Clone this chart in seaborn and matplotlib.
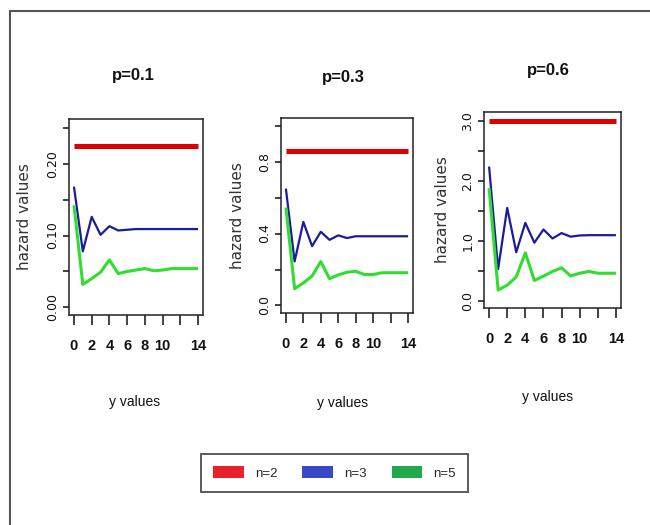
import numpy as np
import pandas as pd
import matplotlib
matplotlib.use("Agg")
import matplotlib.pyplot as plt
import seaborn as sns
from matplotlib.patches import Patch
from matplotlib.lines import Line2D

# ---------------- data ----------------
y_vals = list(range(15))
p_titles = ["p=0.1", "p=0.3", "p=0.6"]
series_names = ["n=2", "n=3", "n=5"]

p01_n2 = [0.225] * 15
p01_n3 = [0.168, 0.078, 0.126, 0.101, 0.113, 0.107, 0.108, 0.109, 0.109, 0.109, 0.109, 0.109, 0.109, 0.109, 0.109]
p01_n5 = [0.142, 0.032, 0.040, 0.049, 0.066, 0.047, 0.050, 0.052, 0.054, 0.051, 0.052, 0.054, 0.054, 0.054, 0.054]

p03_n2 = [0.86] * 15
p03_n3 = [0.65, 0.245, 0.465, 0.33, 0.41, 0.365, 0.39, 0.375, 0.385, 0.385, 0.385, 0.385, 0.385, 0.385, 0.385]
p03_n5 = [0.545, 0.093, 0.125, 0.164, 0.244, 0.149, 0.17, 0.185, 0.19, 0.172, 0.172, 0.182, 0.182, 0.182, 0.182]

p06_n2 = [3.0] * 15
p06_n3 = [2.24, 0.53, 1.55, 0.81, 1.30, 0.97, 1.19, 1.04, 1.13, 1.07, 1.09, 1.095, 1.095, 1.095, 1.095]
p06_n5 = [1.88, 0.18, 0.26, 0.40, 0.80, 0.34, 0.41, 0.49, 0.55, 0.415, 0.46, 0.49, 0.46, 0.46, 0.46]

x_ticks = [0, 2, 4, 6, 8, 10, 12, 14]
x_ticklabels = ["0", "2", "4", "6", "8", "10", "", "14"]

y_ticks_p01 = [0.00, 0.05, 0.10, 0.15, 0.20, 0.25]
y_labels_p01 = ["0.00", "", "0.10", "", "0.20", ""]
y_ticks_p03 = [0.0, 0.2, 0.4, 0.6, 0.8, 1.0]
y_labels_p03 = ["0.0", "", "0.4", "", "0.8", ""]
y_ticks_p06 = [0.0, 0.5, 1.0, 1.5, 2.0, 2.5, 3.0]
y_labels_p06 = ["0.0", "", "1.0", "", "2.0", "", "3.0"]

panels = [
    (p01_n2, p01_n3, p01_n5, y_ticks_p01, y_labels_p01, (-0.0105, 0.262)),
    (p03_n2, p03_n3, p03_n5, y_ticks_p03, y_labels_p03, (-0.042, 1.043)),
    (p06_n2, p06_n3, p06_n5, y_ticks_p06, y_labels_p06, (-0.12, 3.15)),
]

# ---------------- style ----------------
sns.set_style("white")
NARROW = ["Liberation Sans", "DejaVu Sans"]
WIDE = ["DejaVu Sans"]

line_colors = ["#dd0000", "#1c1c9a", "#30dd30"]
line_widths = [3.6, 1.6, 2.2]
legend_colors = ["#e8222b", "#3b48c4", "#21a84a"]

W, H = 650, 525
fig = plt.figure(figsize=(W / 100, H / 100), dpi=100)

# axes boxes in pixel coordinates: left, top, right, bottom
boxes = [(69, 119, 203, 315), (281, 118, 413, 313), (484, 112, 621, 308)]
title_pos = [(0.478, 1.224), (0.47, 1.21), (0.467, 1.214)]
xlabel_pos = [(0.49, -0.444), (0.47, -0.46), (0.467, -0.454)]
ylabel_x = [-0.33, -0.33, -0.30]

for i, (n2, n3, n5, yt, yl, ylim) in enumerate(panels):
    l, t, r, b = boxes[i]
    ax = fig.add_axes([l / W, 1 - b / H, (r - l) / W, (b - t) / H])
    df = pd.DataFrame({
        "y": y_vals * 3,
        "hazard": n2 + n3 + n5,
        "n": [series_names[0]] * 15 + [series_names[1]] * 15 + [series_names[2]] * 15,
    })
    for k, name in enumerate(series_names):
        sns.lineplot(data=df[df["n"] == name], x="y", y="hazard", ax=ax,
                     color=line_colors[k], linewidth=line_widths[k],
                     legend=False, solid_capstyle="butt")
    ax.set_xlim(-0.56, 14.56)
    ax.set_ylim(*ylim)
    ax.set_xticks(x_ticks)
    ax.set_xticklabels(x_ticklabels, family=NARROW, fontsize=10.5, fontweight="bold", color="#111111")
    ax.set_yticks(yt)
    ax.set_yticklabels(yl, family=WIDE, fontsize=9, color="#111111")
    plt.setp(ax.get_yticklabels(), rotation=90, va="center", ha="right")
    ax.tick_params(axis="x", bottom=True, direction="out", length=7, width=1.2, pad=10, color="#222222")
    ax.tick_params(axis="y", left=True, direction="out", length=4, width=1.2, pad=3, color="#222222")
    for s in ax.spines.values():
        s.set_visible(True)
        s.set_color("#222222")
        s.set_linewidth(1.1)
    ax.set_xlabel("y values", family=NARROW, fontsize=10, color="#111111")
    ax.xaxis.set_label_coords(*xlabel_pos[i])
    ax.xaxis.label.set_va("center")
    ax.set_ylabel("hazard values", family=WIDE, fontsize=11, color="#333333")
    ax.yaxis.set_label_coords(ylabel_x[i], 0.5)
    ax.yaxis.label.set_va("center")
    ax.text(title_pos[i][0], title_pos[i][1], p_titles[i], transform=ax.transAxes,
            ha="center", va="center", family=NARROW, fontsize=12, fontweight="bold",
            color="#111111")

# legend
handles = [Patch(facecolor=c, edgecolor="none") for c in legend_colors]
leg = fig.legend(handles, series_names, loc="center", bbox_to_anchor=(334.5 / W, 1 - 473 / H),
                 ncol=3, frameon=True, fancybox=False, prop={"family": NARROW, "size": 9.5},
                 handlelength=2.3, handleheight=1.05, handletextpad=0.85, columnspacing=1.9,
                 borderpad=0.95, borderaxespad=0)
leg.get_frame().set_edgecolor("#333333")
leg.get_frame().set_linewidth(1.4)

# outer frame (top and left only)
fig.add_artist(Line2D([10 / W, 1.0], [1 - 11 / H, 1 - 11 / H], transform=fig.transFigure,
                      color="#555555", linewidth=1.5))
fig.add_artist(Line2D([10 / W, 10 / W], [1 - 11 / H, 0.0], transform=fig.transFigure,
                      color="#555555", linewidth=1.5))

fig.savefig("out.png", dpi=100)
